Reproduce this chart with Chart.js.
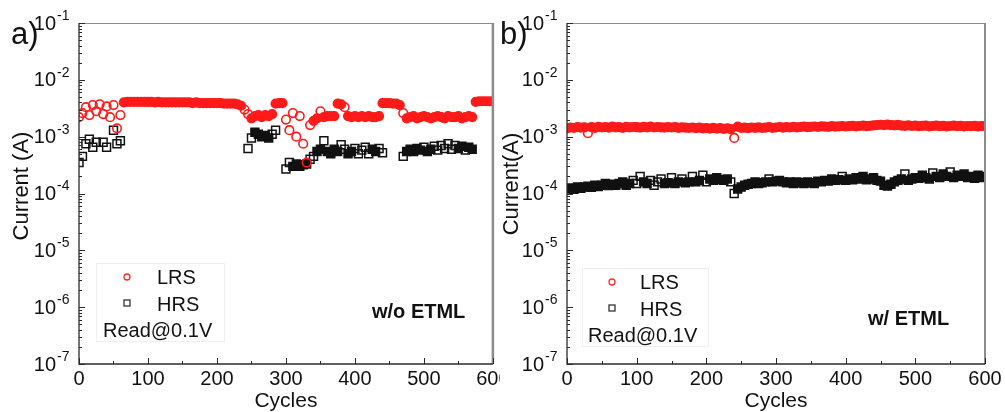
<!DOCTYPE html>
<html>
<head>
<meta charset="utf-8">
<script src="https://cdn.jsdelivr.net/npm/chart.js@4.4.0/dist/chart.umd.min.js"></script>
<style>
  html, body { margin: 0; padding: 0; background: #fff; }
  #wrap { position: relative; width: 1005px; height: 412px; }
  canvas { position: absolute; top: 0; }
  #chartA { left: 0; }
  #chartB { left: 500px; }
</style>
</head>
<body>
<div id="wrap">
  <canvas id="chartA" width="500" height="412"></canvas>
  <canvas id="chartB" width="505" height="412"></canvas>
</div>
<script>
const FONT = 'Arial, "Liberation Sans", sans-serif';

// cycle numbers (sampled every 5 cycles)
const cycles = [
  0, 5, 10, 15, 20, 25, 30, 35, 40, 45,
  50, 55, 60, 65, 70, 75, 80, 85, 90, 95,
  100, 105, 110, 115, 120, 125, 130, 135, 140, 145,
  150, 155, 160, 165, 170, 175, 180, 185, 190, 195,
  200, 205, 210, 215, 220, 225, 230, 235, 240, 245,
  250, 255, 260, 265, 270, 275, 280, 285, 290, 295,
  300, 305, 310, 315, 320, 325, 330, 335, 340, 345,
  350, 355, 360, 365, 370, 375, 380, 385, 390, 395,
  400, 405, 410, 415, 420, 425, 430, 435, 440, 445,
  450, 455, 460, 465, 470, 475, 480, 485, 490, 495,
  500, 505, 510, 515, 520, 525, 530, 535, 540, 545,
  550, 555, 560, 565, 570, 575, 580, 585, 590, 595,
  600
];

// a) w/o ETML, current in mA
const lrsA = [
  2.2, 2.6, 3.3, 2.4, 3.6, 2.8, 3.7, 2.5, 3.4, 2.2,
  3.6, 1.4, 2.4, 4.0, 4.1, 4.1, 4.1, 4.1, 4.1, 4.1,
  4.1, 4.1, 4.0, 4.1, 4.0, 4.0, 4.0, 4.0, 4.0, 4.0,
  4.0, 4.0, 4.0, 3.9, 4.0, 3.9, 3.9, 3.9, 3.9, 3.9,
  3.9, 3.9, 3.8, 3.8, 3.8, 3.8, 3.7, 3.5, 3.0, 2.5,
  2.1, 2.3, 2.4, 2.2, 2.4, 2.3, 2.5, 3.8, 3.9, 3.9,
  2.0, 1.3, 2.6, 1.0, 2.3, 0.75, 0.35, 1.6, 1.9, 2.1,
  2.8, 2.2, 2.3, 2.3, 2.3, 3.8, 3.7, 3.3, 2.3, 2.2,
  2.3, 2.2, 2.3, 2.2, 2.3, 2.2, 2.2, 2.3, 3.9, 3.9,
  3.9, 3.8, 3.8, 3.6, 2.6, 2.1, 2.2, 2.3, 2.1, 2.2,
  2.3, 2.2, 2.1, 2.2, 2.3, 2.2, 2.1, 2.3, 2.2, 2.2,
  2.3, 2.1, 2.2, 2.3, 2.2, 4.1, 4.2, 4.2, 4.2, 4.2,
  4.2
];
const hrsA = [
  0.35, 0.45, 0.75, 0.9, 0.65, 0.8, null, 0.8, 0.65, null,
  1.3, 0.75, 0.85, null, null, null, null, null, null, null,
  null, null, null, null, null, null, null, null, null, null,
  null, null, null, null, null, null, null, null, null, null,
  null, null, null, null, null, null, null, null, null, 0.62,
  0.95, 1.2, 1.1, 1.0, 1.05, 0.95, 1.1, 1.3, null, null,
  0.27, 0.35, 0.3, 0.33, 0.3, 0.32, 0.33, 0.4, 0.45, 0.55,
  0.6, 0.85, 0.55, 0.5, 0.6, 0.55, 0.72, 0.6, 0.5, 0.55,
  0.62, 0.5, 0.58, 0.65, 0.5, 0.6, 0.55, 0.62, 0.52, null,
  null, null, null, null, 0.45, 0.55, 0.6, 0.55, 0.62, 0.58,
  0.65, 0.55, 0.6, 0.68, 0.58, 0.7, 0.62, 0.75, 0.6, 0.7,
  0.62, 0.68, 0.58, 0.65, 0.6, null, null, null, null, null,
  null
];

// b) w/ ETML, current in mA
const lrsB = [
  1.40, 1.45, 1.42, 1.48, 1.44, 1.46, 1.15, 1.47, 1.43, 1.49,
  1.45, 1.48, 1.44, 1.50, 1.46, 1.47, 1.43, 1.49, 1.46, 1.48,
  1.47, 1.44, 1.49, 1.46, 1.50, 1.45, 1.48, 1.46, 1.44, 1.47,
  1.45, 1.48, 1.43, 1.46, 1.44, 1.42, 1.45, 1.41, 1.44, 1.40,
  1.42, 1.39, 1.43, 1.38, 1.41, 1.37, 1.40, 1.36, 0.95, 1.50,
  1.42, 1.44, 1.41, 1.45, 1.43, 1.46, 1.42, 1.44, 1.47, 1.43,
  1.45, 1.48, 1.44, 1.47, 1.45, 1.49, 1.46, 1.48, 1.50, 1.47,
  1.49, 1.51, 1.48, 1.52, 1.50, 1.49, 1.53, 1.50, 1.52, 1.54,
  1.51, 1.53, 1.55, 1.52, 1.54, 1.56, 1.53, 1.55, 1.58, 1.60,
  1.62, 1.59, 1.63, 1.60, 1.58, 1.61, 1.57, 1.55, 1.58, 1.54,
  1.56, 1.53, 1.55, 1.57, 1.52, 1.54, 1.56, 1.53, 1.55, 1.52,
  1.54, 1.56, 1.53, 1.55, 1.52, 1.54, 1.53, 1.55, 1.52, 1.54,
  1.53
];
const hrsB = [
  0.120, 0.125, 0.118, 0.130, 0.124, 0.130, 0.135, 0.128, 0.140, 0.133,
  0.140, 0.150, 0.138, 0.145, 0.140, 0.150, 0.160, 0.140, 0.150, 0.170,
  0.150, 0.200, 0.160, 0.150, 0.170, 0.140, 0.160, 0.180, 0.150, 0.155,
  0.190, 0.150, 0.160, 0.180, 0.155, 0.160, 0.200, 0.160, 0.170, 0.210,
  0.160, 0.180, 0.170, 0.190, 0.175, 0.170, 0.180, 0.160, 0.100, 0.120,
  0.130, 0.140, 0.145, 0.150, 0.160, 0.150, 0.155, 0.160, 0.180, 0.160,
  0.165, 0.170, 0.160, 0.155, 0.160, 0.150, 0.160, 0.155, 0.150, 0.160,
  0.155, 0.150, 0.165, 0.160, 0.170, 0.165, 0.180, 0.170, 0.175, 0.200,
  0.170, 0.180, 0.175, 0.190, 0.180, 0.200, 0.175, 0.180, 0.190, 0.170,
  0.165, 0.140, 0.135, 0.145, 0.160, 0.170, 0.180, 0.220, 0.170, 0.180,
  0.190, 0.185, 0.210, 0.190, 0.180, 0.230, 0.200, 0.190, 0.220, 0.200,
  0.240, 0.190, 0.210, 0.200, 0.220, 0.190, 0.200, 0.185, 0.210, 0.190,
  0.200
];

const decades = [-7, -6, -5, -4, -3, -2, -1];
const xTicks = [0, 100, 200, 300, 400, 500, 600];

const toPoints = (vals) =>
  cycles.map((c, i) => (vals[i] === null ? null : { x: c, y: vals[i] * 1e-3 }))
        .filter((p) => p !== null);

// every sampled point stands for several overlapping markers; where the
// run is steady they merge into a solid band, isolated ones stay open
const bandFill = (color) => (c) => {
  const d = c.dataset.data;
  const i = c.dataIndex;
  const p = d[i];
  if (!p) return 'rgba(0,0,0,0)';
  const near = (q) => q && Math.abs(q.x - p.x) <= 5 && Math.max(q.y / p.y, p.y / q.y) < 1.12;
  return near(d[i - 1]) || near(d[i + 1]) ? color : 'rgba(0,0,0,0)';
};

// frame, inward ticks, y labels, legend and notes
const decorPlugin = {
  id: 'decor',
  afterDraw(chart, args, o) {
    const { ctx, chartArea: a, scales: { x, y } } = chart;
    ctx.save();

    // frame
    ctx.strokeStyle = '#8c8c8c';
    ctx.lineWidth = 1;
    ctx.beginPath(); ctx.moveTo(a.left, a.top + 0.5); ctx.lineTo(a.right, a.top + 0.5); ctx.stroke();
    ctx.lineWidth = o.rightWidth;
    ctx.beginPath(); ctx.moveTo(a.right, a.top); ctx.lineTo(a.right, a.bottom); ctx.stroke();
    ctx.strokeStyle = '#2a2a2a';
    ctx.lineWidth = 1.3;
    ctx.beginPath(); ctx.moveTo(a.left, a.top); ctx.lineTo(a.left, a.bottom); ctx.lineTo(a.right, a.bottom); ctx.stroke();

    // y ticks, log minor
    ctx.lineWidth = 1;
    decades.forEach((e) => {
      for (let m = 1; m <= 9; m++) {
        if (e === -1 && m > 1) break;
        const py = Math.round(y.getPixelForValue(m * Math.pow(10, e))) + 0.5;
        const len = m === 1 ? 6 : 3;
        ctx.beginPath(); ctx.moveTo(a.left, py); ctx.lineTo(a.left + len, py); ctx.stroke();
      }
    });
    // x ticks
    for (let v = 0; v <= 600; v += 50) {
      const px = Math.round(x.getPixelForValue(v)) + 0.5;
      const len = v % 100 === 0 ? 6 : 3;
      ctx.beginPath(); ctx.moveTo(px, a.bottom); ctx.lineTo(px, a.bottom - len); ctx.stroke();
    }

    // y tick labels 10^n
    ctx.fillStyle = '#111';
    ctx.textBaseline = 'middle';
    decades.forEach((e) => {
      const py = y.getPixelForValue(Math.pow(10, e));
      ctx.font = '20px ' + FONT;
      ctx.textAlign = 'right';
      ctx.fillText('10', a.left - 23, py + 1);
      ctx.font = '14px ' + FONT;
      ctx.textAlign = 'left';
      ctx.fillText(String(e), a.left - 22, py - 7);
    });

    // y title
    ctx.save();
    ctx.translate(o.yTitle[0], o.yTitle[1]);
    ctx.rotate(-Math.PI / 2);
    ctx.textAlign = 'center';
    ctx.font = '22px ' + FONT;
    ctx.fillText(o.yTitleText, 0, 0);
    ctx.restore();

    // panel label
    ctx.textAlign = 'left';
    ctx.textBaseline = 'alphabetic';
    ctx.font = '31px ' + FONT;
    ctx.fillText(o.panel, o.panelPos[0], o.panelPos[1]);

    // legend box
    const L = o.legend;
    ctx.strokeStyle = '#efefef';
    ctx.lineWidth = 1;
    ctx.strokeRect(L.box[0] + 0.5, L.box[1] + 0.5, L.box[2], L.box[3]);
    ctx.strokeStyle = '#ff2a2a';
    ctx.lineWidth = 1.3;
    ctx.beginPath(); ctx.arc(L.mx, L.rows[0] - 7, 3, 0, Math.PI * 2); ctx.stroke();
    ctx.strokeStyle = '#333';
    ctx.strokeRect(L.mx - 3, L.rows[1] - 11, 6, 6);
    ctx.fillStyle = '#111';
    ctx.font = '20px ' + FONT;
    ctx.fillText('LRS', L.tx, L.rows[0]);
    ctx.fillText('HRS', L.tx, L.rows[1]);
    ctx.fillText('Read@0.1V', L.rx, L.rows[2]);

    // condition note
    ctx.font = 'bold 20px ' + FONT;
    ctx.fillText(o.note, o.notePos[0], o.notePos[1]);
    ctx.restore();
  }
};

function makePanel(id, lrs, hrs, yWidth, padRight, decor) {
  return new Chart(document.getElementById(id), {
    type: 'scatter',
    data: {
      datasets: [
        {
          label: 'LRS',
          data: toPoints(lrs),
          pointStyle: 'circle',
          pointRadius: 4.3,
          borderWidth: 1.6,
          borderColor: '#ff1a1a',
          backgroundColor: bandFill('#ff1a1a'),
        },
        {
          label: 'HRS',
          data: toPoints(hrs),
          pointStyle: 'rect',
          pointRadius: 5.6,
          borderWidth: 1.5,
          borderColor: '#111',
          backgroundColor: bandFill('#111'),
        },
      ],
    },
    options: {
      responsive: false,
      animation: false,
      layout: { padding: { top: 23, right: padRight, left: 0, bottom: 0 } },
      plugins: {
        legend: { display: false },
        tooltip: { enabled: false },
        decor: decor,
      },
      scales: {
        x: {
          type: 'linear',
          min: 0,
          max: 600,
          grid: { display: false, drawTicks: false },
          border: { display: false },
          afterBuildTicks: (s) => { s.ticks = xTicks.map((v) => ({ value: v })); },
          ticks: { padding: 3, color: '#111', maxRotation: 0, font: { family: FONT, size: 20 } },
          title: {
            display: true,
            text: 'Cycles',
            color: '#111',
            padding: 0,
            font: { family: FONT, size: 21, lineHeight: 1 },
          },
          afterFit: (s) => { s.height = 48; s.paddingLeft = 0; s.paddingRight = 0; },
        },
        y: {
          type: 'logarithmic',
          min: 1e-7,
          max: 1e-1,
          grid: { display: false, drawTicks: false },
          border: { display: false },
          ticks: { display: false },
          afterFit: (s) => { s.width = yWidth; },
        },
      },
    },
    plugins: [decorPlugin],
  });
}

makePanel('chartA', lrsA, hrsA, 79, 3, {
  rightWidth: 2.5,
  panel: 'a)', panelPos: [11, 44],
  yTitleText: 'Current (A)', yTitle: [22, 186],
  legend: { box: [96, 263, 128, 78], mx: 127, tx: 157, rx: 103, rows: [284, 311, 337] },
  note: 'w/o ETML', notePos: [372, 318],
});

makePanel('chartB', lrsB, hrsB, 67, 20, {
  rightWidth: 2,
  panel: 'b)', panelPos: [0, 44],
  yTitleText: 'Current(A)', yTitle: [12, 184],
  legend: { box: [82, 268, 126, 78], mx: 112, tx: 140, rx: 88, rows: [289, 316, 342] },
  note: 'w/ ETML', notePos: [368, 325],
});
</script>
</body>
</html>
